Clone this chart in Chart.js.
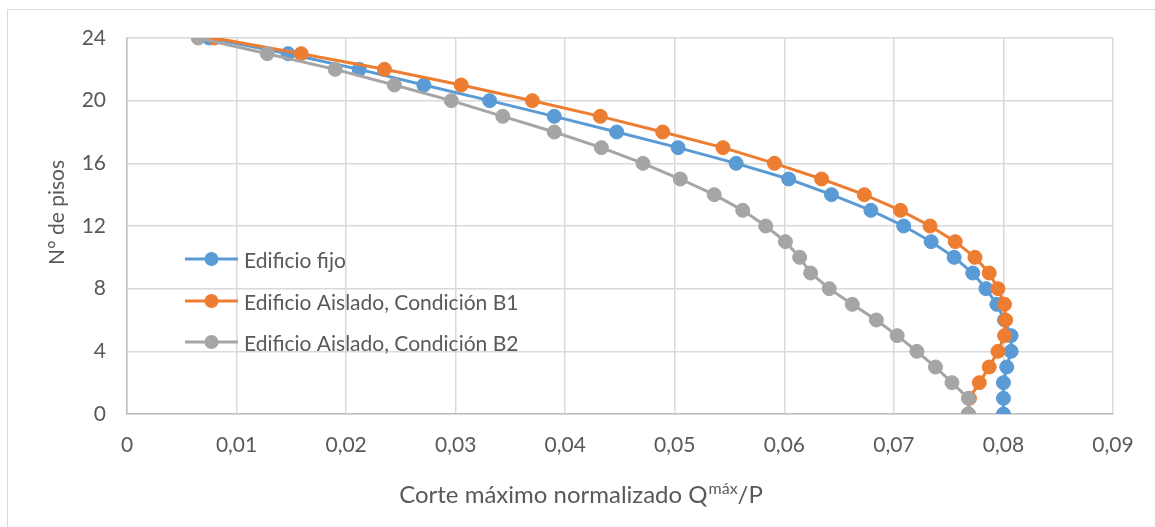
<!DOCTYPE html>
<html>
<head>
<meta charset="utf-8">
<script src="https://cdn.jsdelivr.net/npm/chart.js@4.4.1/dist/chart.umd.min.js"></script>
<style>
  html, body { margin: 0; padding: 0; background: #ffffff; }
  canvas { display: block; }
</style>
</head>
<body>
<canvas id="chart" width="1155" height="527"></canvas>
<script>
// Floor numbers (vertical axis)
const floors = [0, 1, 2, 3, 4, 5, 6, 7, 8, 9, 10, 11, 12, 13, 14, 15, 16, 17, 18, 19, 20, 21, 22, 23, 24];

// Normalized maximum shear Qmáx/P per floor
const fijo = [0.0800, 0.0800, 0.0800, 0.0803, 0.0807, 0.0807, 0.0801, 0.0794, 0.0784, 0.0772, 0.0755, 0.0734, 0.0709,
              0.0679, 0.0643, 0.0604, 0.0556, 0.0503, 0.0447, 0.0390, 0.0331, 0.0271, 0.0212, 0.0147, 0.0075];
const aisladoB1 = [0.0768, 0.0769, 0.0778, 0.0787, 0.0795, 0.0801, 0.0802, 0.0801, 0.0795, 0.0787, 0.0774, 0.0756, 0.0733,
                   0.0706, 0.0673, 0.0634, 0.0591, 0.0544, 0.0489, 0.0432, 0.0370, 0.0305, 0.0235, 0.0159, 0.0080];
const aisladoB2 = [0.0768, 0.0768, 0.0753, 0.0738, 0.0721, 0.0703, 0.0684, 0.0662, 0.0641, 0.0624, 0.0614, 0.0601, 0.0583,
                   0.0562, 0.0536, 0.0505, 0.0471, 0.0433, 0.0390, 0.0343, 0.0296, 0.0244, 0.0190, 0.0128, 0.0065];

const seriesNames = ['Edificio fijo', 'Edificio Aislado, Condición B1', 'Edificio Aislado, Condición B2'];
const seriesColors = ['#5B9BD5', '#ED7D31', '#A5A5A5'];

// Axis settings
const xMin = 0, xMax = 0.09, xStep = 0.01;
const yMin = 0, yMax = 24, yStep = 4;
const yTitle = 'N° de pisos';
const xTitleMain = 'Corte máximo normalizado Q';
const xTitleSup = 'máx';
const xTitleEnd = '/P';

const FONT = 'Lato, "Open Sans", sans-serif';
const TEXT = '#595959';

function toPoints(values) {
  return values.map((v, i) => ({ x: v, y: floors[i] }));
}

// draw order: B2 on top, then B1, then fijo underneath
const datasets = [fijo, aisladoB1, aisladoB2].map((vals, i) => ({
  label: seriesNames[i],
  data: toPoints(vals),
  showLine: true,
  borderColor: seriesColors[i],
  backgroundColor: seriesColors[i],
  borderWidth: 3,
  pointRadius: 7,
  pointBorderWidth: 1,
  pointBorderColor: seriesColors[i],
  pointBackgroundColor: seriesColors[i],
  tension: 0,
  order: 2 - i
}));

// Legend, axis titles and outer frame drawn on the canvas
const decorations = {
  id: 'decorations',
  beforeDraw(chart) {
    const ctx = chart.ctx;
    ctx.save();
    ctx.fillStyle = '#ffffff';
    ctx.fillRect(0, 0, chart.width, chart.height);
    ctx.strokeStyle = '#d9d9d9';
    ctx.lineWidth = 1;
    ctx.strokeRect(7.5, 9.5, chart.width + 10, chart.height + 10);
    ctx.restore();
  },
  afterDraw(chart) {
    const ctx = chart.ctx;
    ctx.save();
    // legend inside the plot area
    const rows = [259, 301, 342];
    chart.data.datasets.forEach((ds, i) => {
      const y = rows[i];
      ctx.strokeStyle = ds.borderColor;
      ctx.lineWidth = 3;
      ctx.beginPath();
      ctx.moveTo(185, y);
      ctx.lineTo(238, y);
      ctx.stroke();
      ctx.fillStyle = ds.borderColor;
      ctx.beginPath();
      ctx.arc(211.5, y, 7, 0, Math.PI * 2);
      ctx.fill();
      ctx.fillStyle = TEXT;
      ctx.font = '21px ' + FONT;
      ctx.textAlign = 'left';
      ctx.textBaseline = 'alphabetic';
      ctx.fillText(ds.label, 244, y + 8.5);
    });

    // vertical axis title
    ctx.save();
    ctx.translate(64, 212.5);
    ctx.rotate(-Math.PI / 2);
    ctx.font = '21px ' + FONT;
    ctx.fillStyle = TEXT;
    ctx.textAlign = 'center';
    ctx.textBaseline = 'alphabetic';
    ctx.fillText(yTitle, 0, 0);
    ctx.restore();

    // horizontal axis title with superscript
    ctx.font = '24px ' + FONT;
    const w1 = ctx.measureText(xTitleMain).width;
    const w3 = ctx.measureText(xTitleEnd).width;
    ctx.font = '16px ' + FONT;
    const w2 = ctx.measureText(xTitleSup).width;
    const total = w1 + w2 + w3 + 1;
    let x = 581 - total / 2;
    const base = 503;
    ctx.fillStyle = TEXT;
    ctx.textAlign = 'left';
    ctx.textBaseline = 'alphabetic';
    ctx.font = '24px ' + FONT;
    ctx.fillText(xTitleMain, x, base);
    x += w1;
    ctx.font = '16px ' + FONT;
    ctx.fillText(xTitleSup, x + 1, base - 9);
    x += w2 + 1;
    ctx.font = '24px ' + FONT;
    ctx.fillText(xTitleEnd, x, base);
    ctx.restore();
  }
};

new Chart(document.getElementById('chart'), {
  type: 'scatter',
  data: { datasets },
  options: {
    responsive: false,
    animation: false,
    devicePixelRatio: 1,
    layout: { padding: { left: 0, top: 38, right: 42, bottom: 0 } },
    plugins: {
      legend: { display: false },
      tooltip: { enabled: false }
    },
    scales: {
      x: {
        type: 'linear',
        min: xMin,
        max: xMax,
        afterFit(scale) { scale.height = 113; },
        ticks: {
          stepSize: xStep,
          color: TEXT,
          font: { family: FONT, size: 21 },
          padding: 19,
          maxRotation: 0,
          callback: (v) => (Math.abs(v) < 1e-9 ? '0' : Number(v).toFixed(2).replace('.', ','))
        },
        grid: { color: '#d9d9d9', lineWidth: 1.5, drawTicks: false },
        border: { color: '#bfbfbf', width: 1.5 }
      },
      y: {
        type: 'linear',
        min: yMin,
        max: yMax,
        afterFit(scale) { scale.width = 127; },
        ticks: {
          stepSize: yStep,
          color: TEXT,
          font: { family: FONT, size: 21 },
          padding: 21
        },
        grid: { color: '#d9d9d9', lineWidth: 1.5, drawTicks: false },
        border: { color: '#bfbfbf', width: 1.5 }
      }
    }
  },
  plugins: [decorations]
});
</script>
</body>
</html>
